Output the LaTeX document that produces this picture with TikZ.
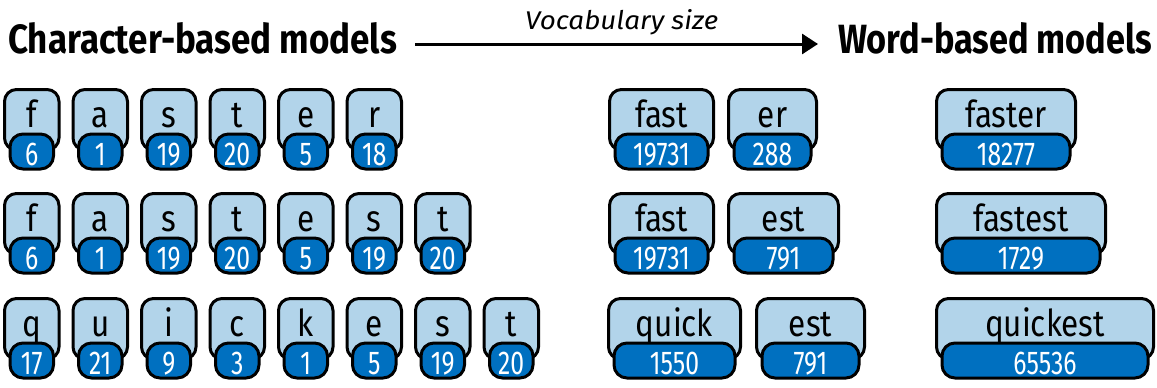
\documentclass[tikz,border=0pt]{standalone}
\usepackage{fontspec}
\setmainfont{Fira Sans}
\newfontfamily\lblfont{Fira Sans}[FakeStretch=0.85]
\newfontfamily\numfont{Fira Sans}[FakeStretch=0.75]
\usetikzlibrary{calc,arrows.meta}
\definecolor{lightb}{RGB}{178,212,234}
\definecolor{darkb}{RGB}{0,112,192}
\tikzset{
  lightbox/.style={draw=black, line width=3pt, fill=lightb, rounded corners=12pt, minimum height=60.5pt, inner sep=0pt, outer sep=0pt},
  darkbox/.style={draw=black, line width=3pt, fill=darkb, rounded corners=13pt, minimum height=35pt, inner sep=0pt, outer sep=0pt},
  lbl/.style={font=\lblfont\fontsize{37}{40}\selectfont, inner sep=0pt, text=black},
  num/.style={font=\numfont\fontsize{33}{36}\selectfont, inner sep=0pt, text=white},
  head/.style={inner sep=0pt, anchor=base west},
  arr/.style={line width=3pt, -{Triangle[length=16pt,width=20pt]}}
}
% #1 name, #2 outer left, #3 outer right, #4 outer top (px down), #5 label, #6 number
\newcommand\tok[6]{%
  \node[lightbox, minimum width={#3-#2-3}, anchor=north west] (#1L) at ({#2+1.5},{-(#4)-1.5}) {};
  \node[darkbox, minimum width={#3-#2-14}, anchor=north west] (#1D) at ({#2+7},{-(#4)-46}) {};
  \node[lbl, anchor=base] (#1t) at ($(#1L.north)+(0,-37.5)$) {#5};
  \node[num, anchor=base] (#1n) at ($(#1D.south)+(0,4)$) {#6};
}
\begin{document}
\begin{tikzpicture}[x=1pt,y=1pt]
\useasboundingbox (0,0) rectangle (1157,-388);
% headers
\node[head] (charhead) at (8,-53) {\resizebox{389pt}{31pt}{\bfseries Character-based models}};
\node[head] (wordhead) at (838,-53) {\resizebox{314pt}{31pt}{\bfseries Word-based models}};
\coordinate (arrS) at (415,-44);
\coordinate (arrE) at (818,-44);
\draw[arr] (arrS) -- (arrE);
\node[head] (vocab) at (525,-29) {\resizebox{193pt}{20pt}{\itshape Vocabulary size}};
% character rows
\foreach \c/\n [count=\i from 0] in {f/6,a/1,s/19,t/20,e/5,r/18}{
  \pgfmathsetmacro\xl{3+68.5*\i}\pgfmathsetmacro\xr{\xl+57.5}
  \tok{ra\i}{\xl}{\xr}{88}{\c}{\n}
}
\foreach \c/\n [count=\i from 0] in {f/6,a/1,s/19,t/20,e/5,s/19,t/20}{
  \pgfmathsetmacro\xl{3+68.5*\i}\pgfmathsetmacro\xr{\xl+57.5}
  \tok{rb\i}{\xl}{\xr}{192}{\c}{\n}
}
\foreach \c/\n [count=\i from 0] in {q/17,u/21,i/9,c/3,k/1,e/5,s/19,t/20}{
  \pgfmathsetmacro\xl{3+68.5*\i}\pgfmathsetmacro\xr{\xl+57.5}
  \tok{rc\i}{\xl}{\xr}{297}{\c}{\n}
}
% subword tokens
\tok{sa1}{608}{715}{88}{fast}{19731}
\tok{sa2}{727}{818}{88}{er}{288}
\tok{sb1}{608}{715}{192}{fast}{19731}
\tok{sb2}{727}{840}{192}{est}{791}
\tok{sc1}{607}{742}{297}{quick}{1550}
\tok{sc2}{755}{866}{297}{est}{791}
% word tokens
\tok{wa}{935}{1077}{88}{faster}{18277}
\tok{wb}{935}{1107}{192}{fastest}{1729}
\tok{wc}{935}{1155}{297}{quickest}{65536}
\end{tikzpicture}
\end{document}
